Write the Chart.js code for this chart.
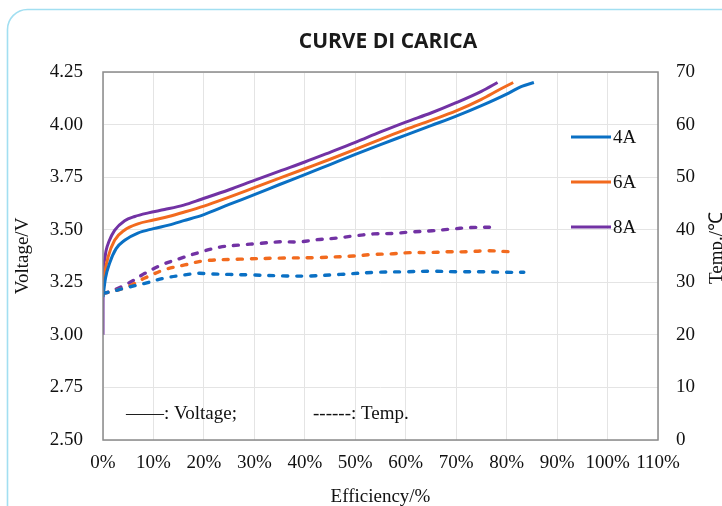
<!DOCTYPE html>
<html>
<head>
<meta charset="utf-8">
<script src="https://cdn.jsdelivr.net/npm/chart.js@4.4.1/dist/chart.umd.min.js"></script>
<style>
  html, body { margin: 0; padding: 0; background: #ffffff; }
  #wrap { width: 722px; height: 506px; position: relative; }
</style>
</head>
<body>
<div id="wrap"><canvas id="c" width="722" height="506"></canvas></div>
<script>
// ---------- data ----------
const seriesLabels = ["4A", "6A", "8A"];

// Voltage curves: efficiency (%) and voltage (V)
const eff4A_V  = [0, 0.5, 1.3, 2.6, 4.3, 6.9, 10, 13, 16, 20, 25, 30, 35, 40, 45, 50, 55, 60, 65, 70, 75, 80, 83, 85.4];
const volt4A   = [3.18, 3.27, 3.34, 3.41, 3.45, 3.484, 3.505, 3.522, 3.543, 3.572, 3.62, 3.667, 3.715, 3.762, 3.81, 3.858, 3.905, 3.95, 3.995, 4.04, 4.09, 4.145, 4.182, 4.20];

const eff6A_V  = [0, 0.4, 1, 2.3, 4.3, 6.9, 10, 13, 16, 20, 25, 30, 35, 40, 45, 50, 55, 60, 65, 70, 75, 78.7, 81.3];
const volt6A   = [3.21, 3.30, 3.37, 3.45, 3.499, 3.528, 3.546, 3.563, 3.583, 3.612, 3.655, 3.70, 3.745, 3.79, 3.835, 3.882, 3.93, 3.977, 4.02, 4.065, 4.12, 4.168, 4.20];

const eff8A_V  = [0, 0.02, 0.25, 0.6, 1.2, 2.3, 4.3, 6.3, 9, 12.2, 16, 19.5, 25, 30, 35, 40, 45, 50, 55, 60, 65, 70, 75, 78.2];
const volt8A   = [3.00, 3.28, 3.35, 3.40, 3.445, 3.497, 3.543, 3.563, 3.58, 3.596, 3.617, 3.645, 3.69, 3.735, 3.779, 3.822, 3.868, 3.915, 3.965, 4.012, 4.055, 4.104, 4.158, 4.20];

// Temperature curves: efficiency (%) and temperature (°C)
const eff4A_T  = [0, 2, 4.3, 8.3, 12.2, 16.2, 18.8, 21.2, 25, 29.1, 36.4, 41, 47, 54.2, 60, 65, 70, 75, 80, 83.4];
const temp4A   = [27.9, 28.3, 28.9, 29.8, 30.8, 31.4, 31.7, 31.6, 31.5, 31.4, 31.2, 31.2, 31.5, 31.9, 32.0, 32.1, 32.0, 32.0, 31.9, 31.9];

const eff6A_T  = [0, 2, 5, 8.3, 12.2, 16.2, 20.2, 27.2, 35.1, 42.4, 49.6, 53.6, 56.9, 60.9, 64.4, 68.4, 72, 76, 80.8];
const temp6A   = [27.9, 28.3, 29.2, 30.8, 32.4, 33.3, 34.1, 34.4, 34.6, 34.7, 35.0, 35.3, 35.4, 35.65, 35.65, 35.8, 35.8, 36.0, 35.8];

const eff8A_T  = [0, 1.3, 5, 8.3, 11.6, 15.5, 19.5, 23.2, 27.2, 31.1, 35.1, 39, 42.4, 46.3, 49.6, 53.6, 57.5, 61.5, 65.2, 68.8, 72.7, 77.9];
const temp8A   = [27.9, 28.2, 29.8, 31.7, 33.3, 34.6, 35.8, 36.7, 37.1, 37.4, 37.7, 37.7, 38.1, 38.4, 38.8, 39.2, 39.3, 39.6, 39.8, 40.1, 40.4, 40.5];

// Axis ticks
const xTicks  = [0, 10, 20, 30, 40, 50, 60, 70, 80, 90, 100, 110];
const yTicks  = [2.50, 2.75, 3.00, 3.25, 3.50, 3.75, 4.00, 4.25];
const y2Ticks = [0, 10, 20, 30, 40, 50, 60, 70];

// ---------- styling ----------
const colors = ["#0A70C4", "#F26A1E", "#7232A4"];
const serif = "'Liberation Serif', 'Times New Roman', serif";

function pts(xs, ys) { return xs.map((x, i) => ({ x: x, y: ys[i] })); }

const volts = [pts(eff4A_V, volt4A), pts(eff6A_V, volt6A), pts(eff8A_V, volt8A)];
const temps = [pts(eff4A_T, temp4A), pts(eff6A_T, temp6A), pts(eff8A_T, temp8A)];

const datasets = [];
for (let i = 0; i < 3; i++) {
  datasets.push({
    label: seriesLabels[i] + " temp",
    isTemp: true,
    data: temps[i],
    yAxisID: 'y2',
    borderColor: colors[i],
    borderWidth: 3.4,
    borderDash: [5, 9],
    borderCapStyle: 'round',
    pointRadius: 0,
    tension: 0.35,
    fill: false
  });
}
for (let i = 0; i < 3; i++) {
  datasets.push({
    label: seriesLabels[i],
    isTemp: false,
    data: volts[i],
    yAxisID: 'y',
    borderColor: colors[i],
    borderWidth: 3,
    borderJoinStyle: 'round',
    pointRadius: 0,
    cubicInterpolationMode: 'monotone',
    fill: false
  });
}

const decor = {
  id: 'decor',
  beforeDraw(chart) {
    const ctx = chart.ctx;
    ctx.save();
    ctx.fillStyle = '#ffffff';
    ctx.fillRect(0, 0, chart.width, chart.height);
    // rounded frame
    const x = 7.5, y = 9.5, w = 780, h = 540, r = 20;
    ctx.beginPath();
    ctx.moveTo(x + r, y);
    ctx.lineTo(x + w - r, y);
    ctx.arcTo(x + w, y, x + w, y + r, r);
    ctx.lineTo(x + w, y + h - r);
    ctx.arcTo(x + w, y + h, x + w - r, y + h, r);
    ctx.lineTo(x + r, y + h);
    ctx.arcTo(x, y + h, x, y + h - r, r);
    ctx.lineTo(x, y + r);
    ctx.arcTo(x, y, x + r, y, r);
    ctx.closePath();
    ctx.strokeStyle = '#A2DFF1';
    ctx.lineWidth = 1.6;
    ctx.stroke();
    ctx.restore();
  },
  afterDatasetsDraw(chart) {
    const ctx = chart.ctx;
    const a = chart.chartArea;
    ctx.save();
    // plot box
    ctx.strokeStyle = '#8a8a8a';
    ctx.lineWidth = 1.5;
    ctx.strokeRect(a.left, a.top, a.right - a.left, a.bottom - a.top);

    // title
    ctx.fillStyle = '#1a1a1a';
    ctx.font = "bold 21px 'Open Sans', sans-serif";
    ctx.textAlign = 'center';
    ctx.textBaseline = 'middle';
    ctx.fillText('CURVE DI CARICA', 388, 42);

    // axis titles
    ctx.font = "19px " + serif;
    ctx.fillStyle = '#111111';
    ctx.textAlign = 'center';
    ctx.textBaseline = 'middle';
    ctx.fillText('Efficiency/%', (a.left + a.right) / 2, 497);

    ctx.save();
    ctx.translate(23, (a.top + a.bottom) / 2);
    ctx.rotate(-Math.PI / 2);
    ctx.fillText('Voltage/V', 0, 0);
    ctx.restore();

    ctx.save();
    ctx.translate(717, 248);
    ctx.rotate(-Math.PI / 2);
    ctx.fillText('Temp./\u2103', 0, 0);
    ctx.restore();

    // legend (from the voltage datasets)
    const legY = [137, 182, 227];
    chart.data.datasets.filter(d => !d.isTemp).forEach((d, i) => {
      ctx.strokeStyle = d.borderColor;
      ctx.lineWidth = 3;
      ctx.beginPath();
      ctx.moveTo(571, legY[i]);
      ctx.lineTo(611, legY[i]);
      ctx.stroke();
      ctx.fillStyle = '#111111';
      ctx.textAlign = 'left';
      ctx.fillText(d.label, 613, legY[i] + 1);
    });

    // line-style note
    ctx.textAlign = 'left';
    ctx.fillText('\u2014\u2014: Voltage;', 126, 414);
    ctx.fillText('------: Temp.', 313, 414);
    ctx.restore();
  }
};

new Chart(document.getElementById('c'), {
  type: 'line',
  data: { datasets: datasets },
  options: {
    responsive: false,
    animation: false,
    devicePixelRatio: 1,
    layout: { padding: { top: 72, left: 0, right: 0, bottom: 0 } },
    plugins: { legend: { display: false }, title: { display: false }, tooltip: { enabled: false } },
    scales: {
      x: {
        type: 'linear',
        min: 0, max: 110,
        afterFit(s) { s.height = 66; },
        afterBuildTicks(s) { s.ticks = xTicks.map(v => ({ value: v })); },
        grid: { color: '#e4e4e4', lineWidth: 1, drawTicks: false },
        border: { display: false },
        ticks: {
          padding: 12,
          color: '#111111',
          font: { family: serif, size: 19 },
          callback: v => v + '%'
        }
      },
      y: {
        type: 'linear',
        position: 'left',
        min: 2.5, max: 4.25,
        afterFit(s) { s.width = 103; },
        afterBuildTicks(s) { s.ticks = yTicks.map(v => ({ value: v })); },
        grid: { color: '#e4e4e4', lineWidth: 1, drawTicks: false },
        border: { display: false },
        ticks: {
          padding: 20,
          color: '#111111',
          font: { family: serif, size: 19 },
          callback: v => Number(v).toFixed(2)
        }
      },
      y2: {
        type: 'linear',
        position: 'right',
        min: 0, max: 70,
        afterFit(s) { s.width = 64; },
        afterBuildTicks(s) { s.ticks = y2Ticks.map(v => ({ value: v })); },
        grid: { display: false, drawTicks: false },
        border: { display: false },
        ticks: {
          padding: 18,
          color: '#111111',
          font: { family: serif, size: 19 },
          callback: v => String(v)
        }
      }
    }
  },
  plugins: [decor]
});
</script>
</body>
</html>
